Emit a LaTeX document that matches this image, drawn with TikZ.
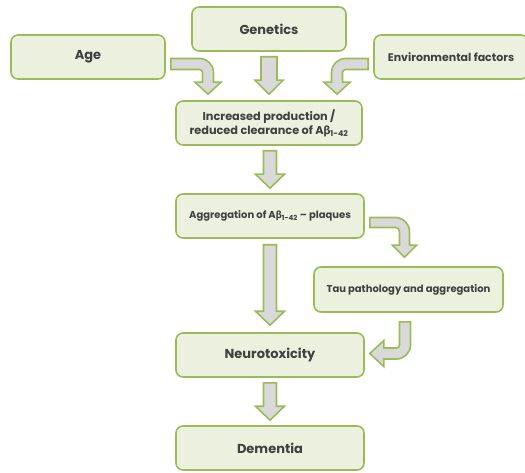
\documentclass[tikz,border=0pt]{standalone}
\usepackage{fontspec}
\setmainfont{Poppins}
\newfontfamily\grk{Fira Sans}
\usepackage{xcolor}
\usepackage{tikz}
\usetikzlibrary{calc}

\definecolor{vertbord}{HTML}{9BBB59}
\definecolor{vertfond}{HTML}{EBF1DE}
\definecolor{grisfleche}{HTML}{D9D9D9}
\definecolor{texte}{HTML}{404040}

\newcommand{\abeta}{A{\grk β}\textsubscript{1-42}}

\begin{document}
\begin{tikzpicture}[x=1pt,y=1pt]
		\tikzstyle{boite}=[draw=vertbord, fill=vertfond, line width=1.6pt, rounded corners=7pt, text=texte, align=center, minimum height=44pt, inner sep=0pt]
		\tikzstyle{flechebloc}=[draw=vertbord, fill=grisfleche, line width=1.6pt, line join=miter]
		\useasboundingbox (0,0) rectangle (525,472);

		% boites
		\node[boite, minimum width=154pt, font=\bfseries\fontsize{13}{15}\selectfont] (gen) at (269,443) {Genetics};
		\node[boite, minimum width=154pt, font=\bfseries\fontsize{13}{15}\selectfont] (age) at (88,415) {Age};
		\node[boite, minimum width=154pt, font=\bfseries\fontsize{11}{13}\selectfont] (env) at (451,415) {Environmental factors};
		\node[boite, minimum width=186pt, font=\bfseries\fontsize{11.3}{14}\selectfont] (inc) at (269,349) {Increased production /\\ reduced clearance of \abeta};
		\node[boite, minimum width=188pt, font=\bfseries\fontsize{10}{12}\selectfont] (agg) at (270,256) {Aggregation of \abeta{} -- plaques};
		\node[boite, minimum width=189pt, minimum height=45pt, font=\bfseries\fontsize{10}{12}\selectfont] (tau) at (408.5,182.5) {Tau pathology and aggregation};
		\node[boite, minimum width=188pt, font=\bfseries\fontsize{13}{15}\selectfont] (neu) at (270,117) {Neurotoxicity};
		\node[boite, minimum width=188pt, font=\bfseries\fontsize{13}{15}\selectfont] (dem) at (270,24) {Dementia};

		% fleches droites
		\draw[flechebloc] let \p1=($(gen.south)+(0,-5)$), \p2=($(inc.north)+(0,6)$) in
			(\x2-8pt,\y1) -- (\x2+8pt,\y1) -- (\x2+8pt,\y2+14pt) -- (\x2+14pt,\y2+14pt) -- (\x2,\y2)
			-- (\x2-14pt,\y2+14pt) -- (\x2-8pt,\y2+14pt) -- cycle;
		\draw[flechebloc] let \p1=($(inc.south)+(0,-5)$), \p2=($(agg.north)+(0,5)$) in
			(\x2-6.5pt,\y1) -- (\x2+6.5pt,\y1) -- (\x2+6.5pt,\y2+14pt) -- (\x2+14.5pt,\y2+14pt) -- (\x2,\y2)
			-- (\x2-14.5pt,\y2+14pt) -- (\x2-6.5pt,\y2+14pt) -- cycle;
		\draw[flechebloc] let \p1=($(agg.south)+(0,-6)$), \p2=($(neu.north)+(0,7)$) in
			(\x2-6.5pt,\y1) -- (\x2+6.5pt,\y1) -- (\x2+6.5pt,\y2+14pt) -- (\x2+14.5pt,\y2+14pt) -- (\x2,\y2)
			-- (\x2-14.5pt,\y2+14pt) -- (\x2-6.5pt,\y2+14pt) -- cycle;
		\draw[flechebloc] let \p1=($(neu.south)+(0,-5)$), \p2=($(dem.north)+(0,5)$) in
			(\x2-6.5pt,\y1) -- (\x2+6.5pt,\y1) -- (\x2+6.5pt,\y2+14pt) -- (\x2+14.5pt,\y2+14pt) -- (\x2,\y2)
			-- (\x2-14.5pt,\y2+14pt) -- (\x2-6.5pt,\y2+14pt) -- cycle;

		% fleches coudees
		\draw[flechebloc] let \p1=($(age.east)+(5,-7)$), \p2=($(inc.north)+(-61,6)$) in
			(\x1,\y1+5.5pt) -- (\x2-8.5pt,\y1+5.5pt) arc[start angle=90, end angle=0, radius=14pt]
			-- (\x2+5.5pt,\y2+12pt) -- (\x2+13pt,\y2+12pt) -- (\x2,\y2) -- (\x2-13pt,\y2+12pt) -- (\x2-5.5pt,\y2+12pt)
			-- (\x2-5.5pt,\y1-8.5pt) arc[start angle=0, end angle=90, radius=3pt] -- (\x1,\y1-5.5pt) -- cycle;
		\draw[flechebloc] let \p1=($(env.west)+(-5,-7)$), \p2=($(inc.north)+(68,6)$) in
			(\x1,\y1+5.5pt) -- (\x2+8.5pt,\y1+5.5pt) arc[start angle=90, end angle=180, radius=14pt]
			-- (\x2-5.5pt,\y2+12pt) -- (\x2-13pt,\y2+12pt) -- (\x2,\y2) -- (\x2+13pt,\y2+12pt) -- (\x2+5.5pt,\y2+12pt)
			-- (\x2+5.5pt,\y1-8.5pt) arc[start angle=180, end angle=90, radius=3pt] -- (\x1,\y1-5.5pt) -- cycle;
		\draw[flechebloc] let \p1=($(agg.east)+(5,-6.5)$), \p2=($(tau.north)+(-4,9)$) in
			(\x1,\y1+5pt) -- (\x2-9pt,\y1+5pt) arc[start angle=90, end angle=0, radius=14pt]
			-- (\x2+5pt,\y2+12pt) -- (\x2+12pt,\y2+12pt) -- (\x2,\y2) -- (\x2-12pt,\y2+12pt) -- (\x2-5pt,\y2+12pt)
			-- (\x2-5pt,\y1-9pt) arc[start angle=0, end angle=90, radius=4pt] -- (\x1,\y1-5pt) -- cycle;
		\draw[flechebloc] let \p1=($(tau.south)+(-3.5,-9)$), \p2=($(neu.east)+(5,1.5)$) in
			(\x1-5.5pt,\y1) -- (\x1+5.5pt,\y1) -- (\x1+5.5pt,\y2+8.5pt) arc[start angle=0, end angle=-90, radius=14pt]
			-- (\x2+14pt,\y2-5.5pt) -- (\x2+14pt,\y2-13pt) -- (\x2,\y2) -- (\x2+14pt,\y2+13pt) -- (\x2+14pt,\y2+5.5pt)
			-- (\x1-8.5pt,\y2+5.5pt) arc[start angle=-90, end angle=0, radius=3pt] -- cycle;
	\end{tikzpicture}
\end{document}
